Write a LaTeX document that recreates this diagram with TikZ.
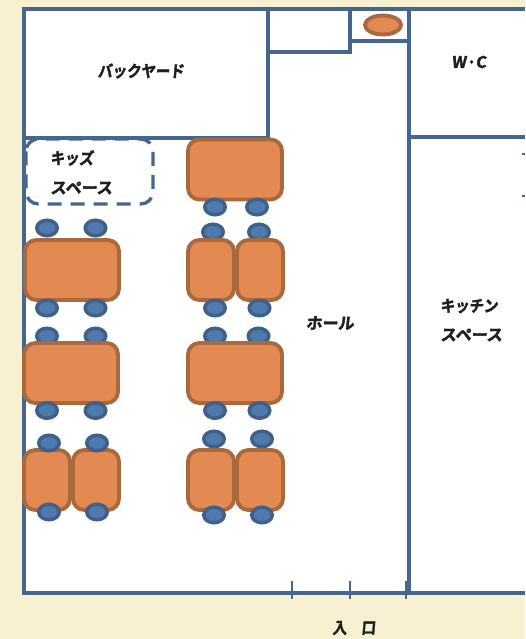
\documentclass[tikz,border=0pt]{standalone}
\usepackage{fontspec}
\setmainfont{Noto Sans CJK JP}[BoldFont={Noto Sans CJK JP Bold},BoldFeatures={FakeBold=2.4,FakeSlant=0.1}]
\definecolor{wallblue}{HTML}{44668F}
\definecolor{creambg}{HTML}{F7F1D2}
\definecolor{chairfill}{HTML}{4F7AAD}
\definecolor{chairline}{HTML}{3F6189}
\definecolor{tablefill}{HTML}{E38A53}
\definecolor{tableline}{HTML}{A9693D}
\newcommand{\narrowtext}[1]{\scalebox{0.9}[1]{#1}}
\tikzset{
  wall/.style={draw=wallblue,line width=1.9pt},
  bigtable/.style={draw=tableline,fill=tablefill,line width=2.2pt,rounded corners=6.5pt,
    minimum width=94*0.02cm,minimum height=60*0.02cm,inner sep=0pt},
  smalltable/.style={draw=tableline,fill=tablefill,line width=2.2pt,rounded corners=6.5pt,
    minimum width=46*0.02cm,minimum height=60*0.02cm,inner sep=0pt},
  chair/.style={ellipse,draw=chairline,fill=chairfill,line width=2pt,
    minimum width=20.5*0.02cm,minimum height=15.5*0.02cm,inner sep=0pt},
  label/.style={font=\fontsize{9.1pt}{11pt}\selectfont\bfseries,text=black!88,inner sep=0pt},
}
\usetikzlibrary{shapes.geometric}
\begin{document}
\begin{tikzpicture}[x=0.02cm,y=-0.02cm]
\useasboundingbox (0,0) rectangle (525,639);
\fill[creambg] (0,0) rectangle (525,639);
\fill[white] (24,9) rectangle (525,593);

% walls
\draw[wall] (525,9) -- (24,9) -- (24,593) -- (525,593);
\draw[wall] (24,138) -- (268,138) -- (268,9);
\draw[wall] (268,52) -- (350,52) -- (350,9);
\draw[wall] (350,41) -- (409,41);
\draw[wall] (409,9) -- (409,593);
\draw[wall,line width=2.4pt] (409,137) -- (525,137);

% entrance and kitchen marks
\draw[wall,line width=1.5pt] (292,581) -- (292,599);
\draw[wall,line width=1.5pt] (350,581) -- (350,599);
\draw[wall,line width=1.5pt] (406,581) -- (406,599);
\draw[wall,line width=1.5pt] (522,154) -- (525,154);
\draw[wall,line width=1.5pt] (522,196) -- (525,196);

% kids corner
\draw[wall,dash pattern=on 14*0.02cm off 9*0.02cm,rounded corners=7pt] (26,139) rectangle (153,204);

\node[ellipse,draw=tableline,fill=tablefill,line width=2.2pt,minimum width=36*0.02cm,minimum height=19*0.02cm,inner sep=0pt] (sink) at (383,25) {};

% chairs
\foreach \x/\y [count=\i] in {47/228,95.5/228,47/336,95.5/336,213/232,259/232,215/336,258.5/336}
  \node[chair] (chair\i) at (\x,\y) {};

% tables
\node[bigtable] (tableA) at (235,169.5) {};
\node[bigtable] (tableB) at (72,270) {};
\node[bigtable] (tableC) at (71,373) {};
\node[bigtable] (tableD) at (235,373) {};
\node[smalltable] (tableE) at (211,270) {};
\node[smalltable] (tableF) at (260,270) {};
\node[smalltable] (tableG) at (47,480) {};
\node[smalltable] (tableH) at (96,480) {};
\node[smalltable] (tableI) at (211,480) {};
\node[smalltable] (tableJ) at (260,480) {};

% chairs that sit over the table edge
\foreach \x/\y [count=\i] in {49/443,97/443,49/512,97/512,214/515,262/515,215/207,257/207,214/439,262/439,47/308,95.5/308,215/308,259.5/308,47/410.5,95.5/410.5,215/410.5,259.5/410.5}
  \node[chair] (front\i) at (\x,\y) {};

% room names
\node[label] (backyard) at (141,71) {\narrowtext{バックヤード}};
\node[label,anchor=west] (kids) at (50,158) {\narrowtext{キッズ}};
\node[label,anchor=west] (kidsspace) at (50,188) {スペース};
\node[label] (wc) at (469,62) {W·C};
\node[label] (hall) at (330,323) {ホール};
\node[label,anchor=west] (kitchen) at (440,306) {\narrowtext{キッチン}};
\node[label,anchor=west] (kitchenspace) at (440,335) {スペース};
\node[label] (entrance) at (354,628) {\narrowtext{入　口}};
\end{tikzpicture}
\end{document}
